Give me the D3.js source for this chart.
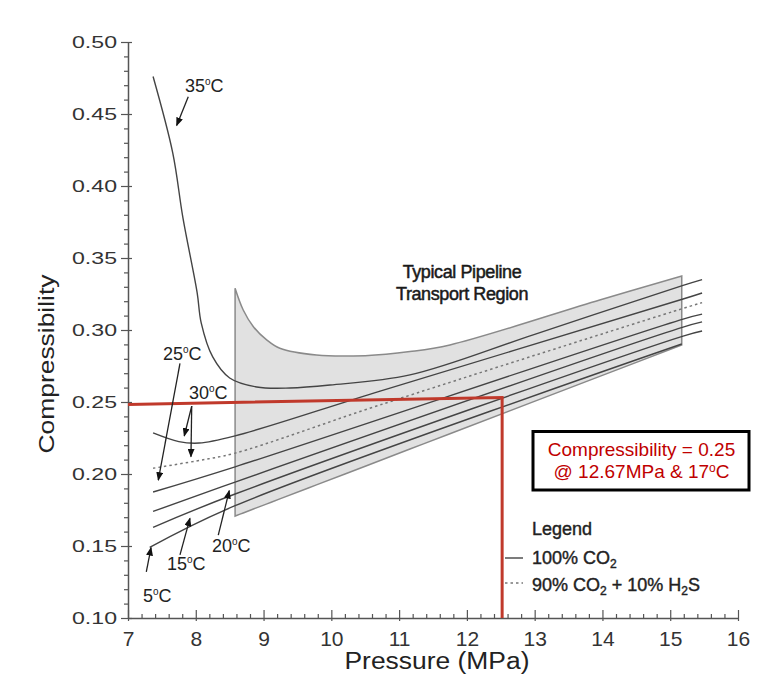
<!DOCTYPE html>
<html lang="en">
<head>
<meta charset="utf-8">
<title>CO2 compressibility vs pressure</title>
<script src="https://cdn.jsdelivr.net/npm/d3@7"></script>
<style>
  body { margin: 0; background: #fff; }
  svg { display: block; background: #fff; }
  text { font-family: "Liberation Sans", Arial, Helvetica, sans-serif; }
  .axis .domain { stroke: #555; stroke-width: 1.5px; }
  .axis line { stroke: #555; stroke-width: 1.2px; }
  .axis text { fill: #333; }
  .iso { fill: none; stroke: #444; stroke-width: 1.4px; }
  .mix { fill: none; stroke: #777; stroke-width: 1.5px; stroke-dasharray: 2.5,3; }
  .lbl { fill: #222; font-size: 18px; }
</style>
</head>
<body>
<svg id="vis" width="765" height="683"></svg>
<script>
// axis ticks
var xTicks = [7, 8, 9, 10, 11, 12, 13, 14, 15, 16];
var yTicks = [0.10, 0.15, 0.20, 0.25, 0.30, 0.35, 0.40, 0.45, 0.50];

// isotherms, [pressure MPa, compressibility]
var co2_35 = [[7.37,0.476],[7.66,0.423],[7.81,0.378],[8.02,0.326],[8.08,0.305],[8.25,0.2813],[8.50,0.2667],
              [8.90,0.2604],[9.39,0.2597],[9.98,0.2618],[11.16,0.2688],[13.0,0.297],[15.19,0.331],[15.47,0.335]];
var co2_30 = [[7.37,0.2285],[7.75,0.2225],[8.05,0.2215],[8.58,0.2265],[10.72,0.2576],[15.19,0.3215],[15.47,0.3257]];
var mix_30 = [[7.37,0.204],[8.0,0.209],[8.58,0.2145],[10.72,0.248],[15.19,0.315],[15.47,0.319]];
var co2_25 = [[7.37,0.1875],[8.58,0.205],[15.19,0.3076],[15.47,0.311]];
var co2_20 = [[7.37,0.174],[8.58,0.1944],[15.19,0.302],[15.47,0.3056]];
var co2_15 = [[7.37,0.163],[8.58,0.1861],[15.19,0.2958],[15.47,0.2993]];
var co2_5  = [[7.32,0.149],[8.58,0.178],[15.17,0.2903]];

// shaded transport region
var bandTop = [[8.58,0.329],[8.70,0.3139],[8.85,0.3023],[9.05,0.293],[9.24,0.2873],[9.78,0.2826],
               [10.5,0.2822],[11.16,0.2850],[11.75,0.2896],[13.96,0.3208],[15.17,0.3375]];
var bandBottom = [[8.58,0.1708],[15.17,0.2896]];

// red reading guide
var redGuide = [[7,0.2483],[12.52,0.2531],[12.52,0.10]];

// temperature labels and their arrows [from, to]
var tempNames = ["35", "30", "25", "20", "15", "5"];
var tempLabelPos = [[7.841,0.4653],[7.900,0.2521],[7.516,0.2792],[8.239,0.1458],[7.575,0.1333],[7.221,0.1111]];
var tempArrows = [
  [[7.889,0.462],[7.718,0.442]],
  [[7.940,0.2472],[7.830,0.2264]],
  [[7.940,0.2472],[7.929,0.2120]],
  [[7.767,0.2769],[7.447,0.1958]],
  [[8.332,0.1576],[8.494,0.1884]],
  [[7.767,0.1438],[7.914,0.1692]],
  [[7.270,0.1320],[7.340,0.1488]]
];

var svg = d3.select("#vis");
var x = d3.scaleLinear().domain([7, 16]).range([128, 738]);
var y = d3.scaleLinear().domain([0.10, 0.50]).range([618, 42]);

var defs = svg.append("defs");
defs.append("marker")
    .attr("id", "head")
    .attr("viewBox", "0 0 10 8")
    .attr("refX", 9).attr("refY", 4)
    .attr("markerWidth", 9).attr("markerHeight", 7)
    .attr("markerUnits", "userSpaceOnUse")
    .attr("orient", "auto")
  .append("path")
    .attr("d", "M0,0L10,4L0,8Z")
    .attr("fill", "#111");

// band
var bottomAt = d3.scaleLinear().domain([bandBottom[0][0], bandBottom[1][0]]).range([bandBottom[0][1], bandBottom[1][1]]);
var band = d3.area()
    .x(function(d) { return x(d[0]); })
    .y0(function(d) { return y(bottomAt(d[0])); })
    .y1(function(d) { return y(d[1]); })
    .curve(d3.curveCatmullRom);
svg.append("path")
    .datum(bandTop)
    .attr("d", function(d) { return band(d) + "Z"; })
    .attr("fill", "#e1e1e1")
    .attr("stroke", "#8a8a8a")
    .attr("stroke-width", 1.5);

var line = d3.line()
    .x(function(d) { return x(d[0]); })
    .y(function(d) { return y(d[1]); })
    .curve(d3.curveCatmullRom);

[co2_35, co2_30, co2_25, co2_20, co2_15, co2_5].forEach(function(s) {
  svg.append("path").datum(s).attr("class", "iso").attr("d", line);
});
svg.append("path").datum(mix_30).attr("class", "mix").attr("d", line);

// axes
var yAxis = svg.append("g").attr("class", "axis")
    .attr("transform", "translate(" + x(7) + ",0)")
    .call(d3.axisLeft(y).tickValues(yTicks).tickSize(7).tickPadding(4).tickSizeOuter(0)
      .tickFormat(d3.format(".2f")));
yAxis.selectAll(".tick line").attr("x1", 4);
yAxis.selectAll("text")
    .attr("font-size", 17)
    .attr("textLength", 45)
    .attr("lengthAdjust", "spacingAndGlyphs");

var yMinor = d3.range(10, 50).filter(function(i) { return i % 5; }).map(function(i) { return i / 100; });
svg.append("g").attr("class", "axis")
    .attr("transform", "translate(" + x(7) + ",0)")
    .call(d3.axisLeft(y).tickValues(yMinor).tickSize(4).tickFormat(""))
    .select(".domain").remove();

var xAxis = svg.append("g").attr("class", "axis")
    .attr("transform", "translate(0," + y(0.10) + ")")
    .call(d3.axisBottom(x).tickValues(xTicks).tickSize(-8).tickPadding(13).tickSizeOuter(0)
      .tickFormat(d3.format("d")));
xAxis.selectAll(".tick line").attr("y1", 3);
xAxis.selectAll("text").attr("font-size", 21);

var xMinor = d3.range(7, 16, 0.2).filter(function(v) { return Math.abs(v - Math.round(v)) > 0.01; });
svg.append("g").attr("class", "axis")
    .attr("transform", "translate(0," + y(0.10) + ")")
    .call(d3.axisBottom(x).tickValues(xMinor).tickSize(-4).tickFormat(""))
    .select(".domain").remove();

svg.append("text")
    .attr("transform", "translate(54," + ((y(0.10) + y(0.50)) / 2 + 34) + ") rotate(-90)")
    .attr("text-anchor", "middle")
    .attr("font-size", 22)
    .attr("fill", "#222")
    .attr("textLength", 179)
    .attr("lengthAdjust", "spacingAndGlyphs")
    .text("Compressibility");

svg.append("text")
    .attr("x", 437).attr("y", 669)
    .attr("text-anchor", "middle")
    .attr("font-size", 23)
    .attr("fill", "#222")
    .attr("textLength", 185)
    .attr("lengthAdjust", "spacingAndGlyphs")
    .text("Pressure (MPa)");

// red guide
svg.append("path")
    .datum(redGuide)
    .attr("d", d3.line().x(function(d) { return x(d[0]); }).y(function(d) { return y(d[1]); }))
    .attr("fill", "none")
    .attr("stroke", "#c0392b")
    .attr("stroke-width", 3);

// temperature labels
tempNames.forEach(function(t, i) {
  var p = tempLabelPos[i];
  var tx = svg.append("text").attr("class", "lbl").attr("x", x(p[0])).attr("y", y(p[1]));
  tx.append("tspan").text(t);
  tx.append("tspan").attr("font-size", 10).attr("dy", -7).text("o");
  tx.append("tspan").attr("dy", 7).text("C");
});
tempArrows.forEach(function(a) {
  svg.append("line")
      .attr("x1", x(a[0][0])).attr("y1", y(a[0][1]))
      .attr("x2", x(a[1][0])).attr("y2", y(a[1][1]))
      .attr("stroke", "#222").attr("stroke-width", 1.3)
      .attr("marker-end", "url(#head)");
});

// region title
svg.append("text").attr("x", 462).attr("y", 278).attr("text-anchor", "middle")
    .attr("font-size", 18).attr("letter-spacing", -0.4)
    .attr("fill", "#1a1a1a").attr("stroke", "#1a1a1a").attr("stroke-width", 0.5)
    .text("Typical Pipeline");
svg.append("text").attr("x", 462).attr("y", 300).attr("text-anchor", "middle")
    .attr("font-size", 18).attr("letter-spacing", -0.4)
    .attr("fill", "#1a1a1a").attr("stroke", "#1a1a1a").attr("stroke-width", 0.5)
    .text("Transport Region");

// annotation box
svg.append("rect")
    .attr("x", 533).attr("y", 431.5).attr("width", 216).attr("height", 58.5)
    .attr("fill", "#fff").attr("stroke", "#000").attr("stroke-width", 3);
svg.append("text").attr("x", 641.5).attr("y", 456).attr("text-anchor", "middle")
    .attr("font-size", 19).attr("fill", "#c00000")
    .text("Compressibility = 0.25");
var t2 = svg.append("text").attr("x", 641.5).attr("y", 478).attr("text-anchor", "middle")
    .attr("font-size", 19).attr("fill", "#c00000");
t2.append("tspan").text("@ 12.67MPa & 17");
t2.append("tspan").attr("font-size", 12).attr("dy", -6).text("o");
t2.append("tspan").attr("dy", 6).text("C");

// legend
var lg = svg.append("g").attr("fill", "#222");
lg.append("text").attr("x", 532).attr("y", 535).attr("font-size", 18)
    .attr("stroke", "#222").attr("stroke-width", 0.4).text("Legend");
lg.append("line").attr("x1", 505).attr("x2", 523).attr("y1", 558).attr("y2", 558)
    .attr("stroke", "#444").attr("stroke-width", 1.4);
var l1 = lg.append("text").attr("x", 532).attr("y", 564).attr("font-size", 18)
    .attr("stroke", "#222").attr("stroke-width", 0.4);
l1.append("tspan").text("100% CO");
l1.append("tspan").attr("font-size", 12).attr("dy", 4).text("2");
lg.append("line").attr("x1", 505).attr("x2", 523).attr("y1", 583).attr("y2", 583)
    .attr("stroke", "#777").attr("stroke-width", 1.5).attr("stroke-dasharray", "2.5,3");
var l2 = lg.append("text").attr("x", 532).attr("y", 591).attr("font-size", 18)
    .attr("stroke", "#222").attr("stroke-width", 0.4);
l2.append("tspan").text("90% CO");
l2.append("tspan").attr("font-size", 12).attr("dy", 4).text("2");
l2.append("tspan").attr("dy", -4).text(" + 10% H");
l2.append("tspan").attr("font-size", 12).attr("dy", 4).text("2");
l2.append("tspan").attr("dy", -4).text("S");
</script>
</body>
</html>
